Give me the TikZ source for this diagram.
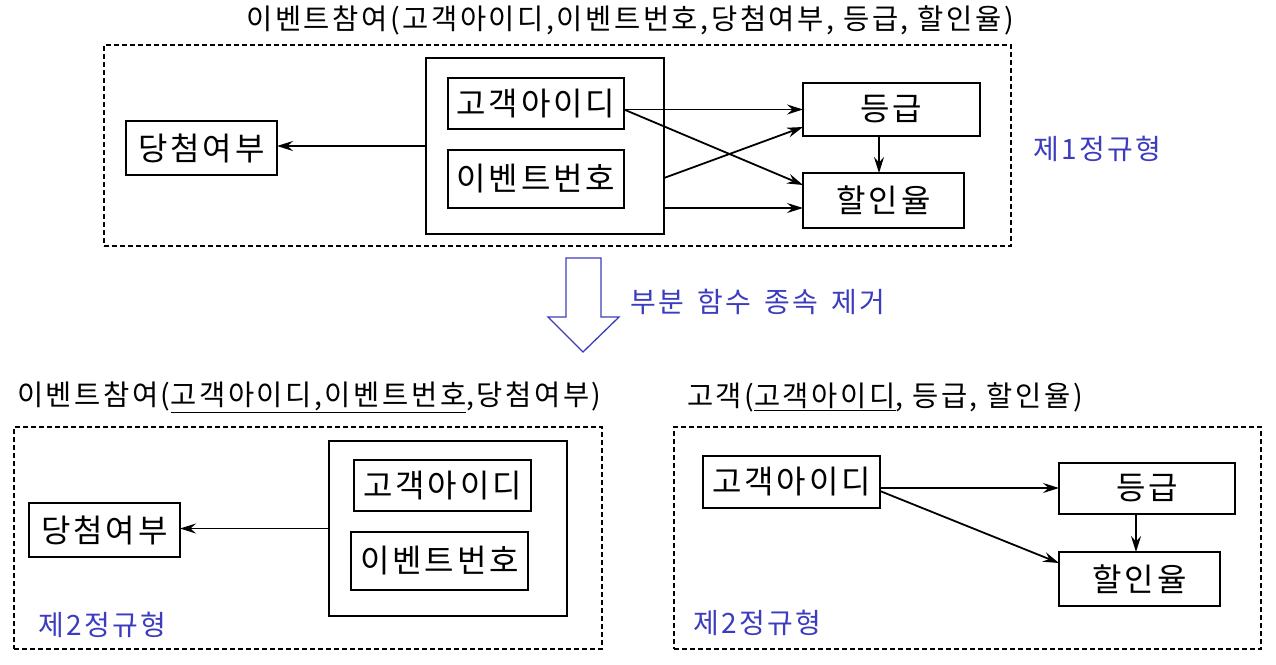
\documentclass[tikz,border=0pt]{standalone}
\usepackage{fontspec}
\setmainfont{Noto Sans CJK KR}[LetterSpace=9]
\usetikzlibrary{arrows.meta}
\definecolor{lblblue}{RGB}{60,60,190}
\newcommand{\widespaces}{\spaceskip=13pt\relax}
\begin{document}
\begin{tikzpicture}[x=1pt,y=-1pt,
  every node/.style={inner sep=0pt, outer sep=0pt},
  attrbox/.style={draw, line width=2pt, minimum width=#1, anchor=center, font=\fontsize{32}{36}\selectfont},
  keybox/.style={draw, line width=2pt, anchor=center},
  frame/.style={draw, dashed, dash pattern=on 5pt off 3pt, line width=1.3pt},
  conn/.style={line width=1.8pt, -{Stealth[length=16pt,width=10pt,inset=5.5pt]}},
  titletext/.style={font=\fontsize{28.5}{34}\selectfont},
  nftext/.style={text=lblblue, font=\fontsize{28}{32}\selectfont, anchor=west}
]
\useasboundingbox (0,0) rectangle (1276,664);
\fill[white] (0,0) rectangle (1276,664);

% ---------- top: first normal form ----------
\node[titletext] (t1) at (630,20) {이벤트참여(고객아이디,이벤트번호,당첨여부, 등급, 할인율)};
\node[frame, minimum width=907pt, minimum height=201pt] (f1) at (557.5,145.5) {};
\node[keybox, minimum width=238pt, minimum height=176pt] (outer1) at (545,146) {};
\node[attrbox=176pt, minimum height=51pt] (go1) at (536,103.5) {고객아이디};
\node[attrbox=176pt, minimum height=58pt] (ev1) at (536,179) {이벤트번호};
\node[attrbox=151pt, minimum height=54pt] (dang1) at (201.5,148) {당첨여부};
\node[attrbox=177pt, minimum height=53pt] (deung1) at (891.5,109.5) {등급};
\node[attrbox=161pt, minimum height=55pt] (hal1) at (883.5,200.5) {할인율};
\node[nftext] (nf1) at (1033,149) {제1정규형};

\draw[conn] (outer1.west) -- (outer1.west -| dang1.east);
\draw[conn] ([yshift=-6pt]go1.east) -- ([yshift=-6pt]go1.east -| deung1.west);
\draw[conn] ([yshift=-6pt]go1.east) -- ([yshift=15.5pt]hal1.west);
\draw[conn] ([yshift=-32pt]outer1.east) -- ([yshift=-17.5pt]deung1.west);
\draw[conn] ([yshift=-62pt]outer1.east) -- ([yshift=-62pt]outer1.east -| hal1.west);
\draw[conn] ([xshift=-12.5pt]deung1.south) -- ([xshift=-12.5pt]deung1.south |- hal1.north);

% ---------- transition arrow ----------
\draw[lblblue, line width=1.3pt, line join=miter] (566,258) -- (601,258) -- (601,317) -- (619,317) -- (583,352) -- (548,317) -- (566,317) -- cycle;
\node[text=lblblue, font=\fontsize{28}{32}\selectfont, anchor=west] (tr) at (630,302) {\widespaces 부분 함수 종속 제거};

% ---------- bottom left: second normal form ----------
\node[titletext, anchor=west] (t2) at (17,397) {이벤트참여(\underline{고객아이디,이벤트번호},당첨여부)};
\node[frame, minimum width=588pt, minimum height=222pt] (f2) at (308,538) {};
\node[keybox, minimum width=238pt, minimum height=175pt] (outer2) at (448,528.5) {};
\node[attrbox=177pt, minimum height=51pt] (go2) at (442.5,485.5) {고객아이디};
\node[attrbox=177pt, minimum height=58pt] (ev2) at (439.5,561) {이벤트번호};
\node[attrbox=151pt, minimum height=54pt] (dang2) at (104.5,530) {당첨여부};
\node[nftext] (nf2) at (38,625) {제2정규형};
\draw[conn] (outer2.west) -- (outer2.west -| dang2.east);

% ---------- bottom right: second normal form ----------
\node[titletext, anchor=west] (t3) at (687,397) {고객(\underline{고객아이디}, 등급, 할인율)};
\node[frame, minimum width=587pt, minimum height=222pt] (f3) at (967.5,538) {};
\node[attrbox=177pt, minimum height=52pt] (go3) at (791.5,482) {고객아이디};
\node[attrbox=176pt, minimum height=51pt] (deung3) at (1147,488.5) {등급};
\node[attrbox=161pt, minimum height=54pt] (hal3) at (1139.5,579) {할인율};
\node[nftext] (nf3) at (693,623) {제2정규형};
\draw[conn] ([yshift=-6pt]go3.east) -- ([yshift=-6pt]go3.east -| deung3.west);
\draw[conn] ([yshift=-9pt]go3.east) -- ([yshift=16pt]hal3.west);
\draw[conn] ([xshift=-11pt]deung3.south) -- ([xshift=-11pt]deung3.south |- hal3.north);
\end{tikzpicture}
\end{document}
